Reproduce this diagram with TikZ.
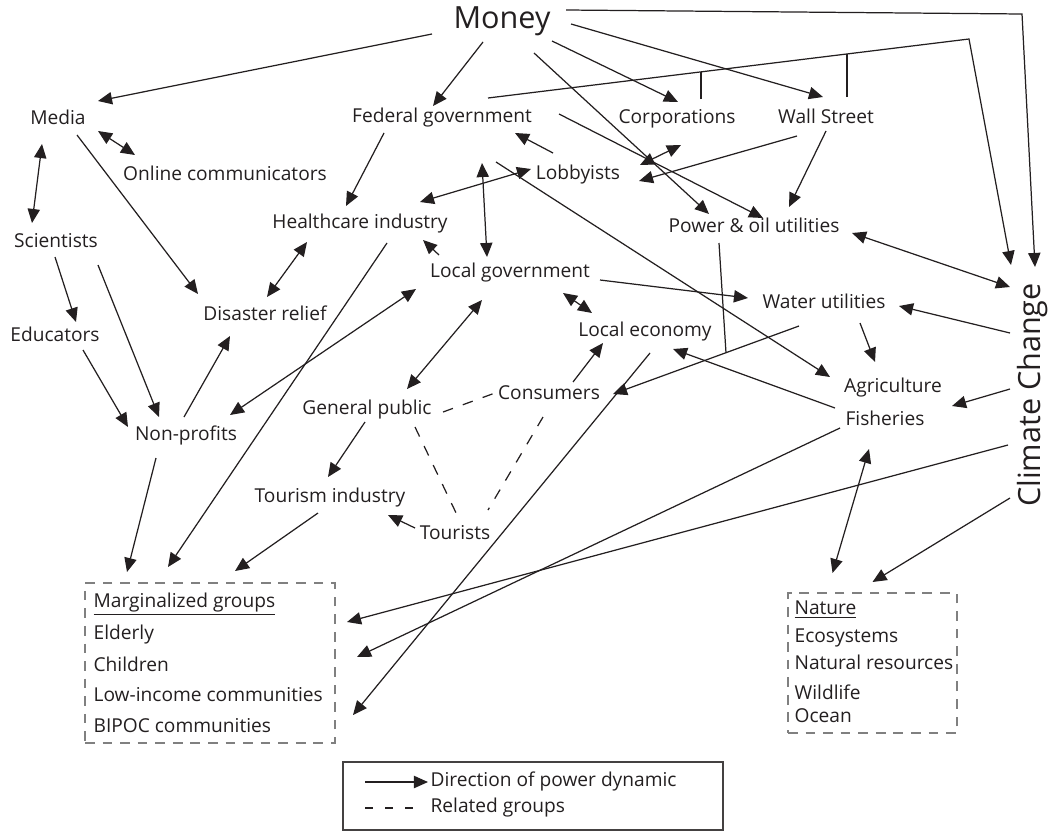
\documentclass[tikz,border=0pt]{standalone}
\usepackage{fontspec}
\setmainfont{Open Sans}
\usetikzlibrary{arrows.meta,calc}
\definecolor{ink}{RGB}{35,31,32}
\definecolor{boxgray}{RGB}{128,128,128}

\begin{document}
\begin{tikzpicture}[
  x=0.02cm, y=-0.02cm, ink, line width=0.7pt,
  lbl/.style={inner sep=0pt,text height=0.76em,text depth=0.24em,font=\fontsize{10.9}{13}\selectfont},
  big/.style={inner sep=0pt,text height=0.76em,text depth=0.24em,font=\fontsize{17.4}{20}\selectfont},
  item/.style={lbl,anchor=west},
  pow/.style={-{Triangle[length=8pt,width=7pt]}},
  both/.style={{Triangle[length=8pt,width=7pt]}-{Triangle[length=8pt,width=7pt]}},
  rel/.style={dash pattern=on 6pt off 6pt},
  grpbox/.style={draw=boxgray,dash pattern=on 5.5pt off 4.5pt,line width=0.8pt,inner sep=0pt}
]
  \useasboundingbox (0,0) rectangle (1053,835);

  \node[big] (money) at (502,24) {Money};
  \node[big,rotate=90] (climate) at (1036,395) {Climate Change};
  \node[lbl] (media) at (58,120) {Media};
  \node[lbl] (online) at (225,176) {Online communicators};
  \node[lbl] (sci) at (56,243) {Scientists};
  \node[lbl] (edu) at (55,337) {Educators};
  \node[lbl] (nonprof) at (186,436) {Non-profits};
  \node[lbl] (disaster) at (265,316) {Disaster relief};
  \node[lbl] (health) at (360,224) {Healthcare industry};
  \node[lbl] (fedgov) at (442,118) {Federal government};
  \node[lbl] (corp) at (677,119) {Corporations};
  \node[lbl] (wall) at (826,119) {Wall Street};
  \node[lbl] (lobby) at (578,175) {Lobbyists};
  \node[lbl] (power) at (754,228) {Power \& oil utilities};
  \node[lbl] (localgov) at (510,273) {Local government};
  \node[lbl] (water) at (824,304) {Water utilities};
  \node[lbl] (localeco) at (645,332) {Local economy};
  \node[lbl] (consumers) at (549,395) {Consumers};
  \node[lbl] (public) at (367,410) {General public};
  \node[lbl] (tourism) at (330,498) {Tourism industry};
  \node[lbl] (tourists) at (455,535) {Tourists};
  \node[lbl] (agri) at (893,388) {Agriculture};
  \node[lbl] (fish) at (885,421) {Fisheries};

  % group boxes
  \node[grpbox,minimum width=5cm,minimum height=3.2cm] (marg) at (210,663) {};
  \node[item] (marg0) at (93,603) {\underline{Marginalized groups}};
  \node[item] (marg1) at (93,635) {Elderly};
  \node[item] (marg2) at (93,667) {Children};
  \node[item] (marg3) at (93,697) {Low-income communities};
  \node[item] (marg4) at (93,728) {BIPOC communities};
  \node[grpbox,minimum width=3.38cm,minimum height=2.8cm] (nat) at (872.5,663) {};
  \node[item] (nat0) at (794,610) {\underline{Nature}};
  \node[item] (nat1) at (794,638) {Ecosystems};
  \node[item] (nat2) at (794,665) {Natural resources};
  \node[item] (nat3) at (794,695) {Wildlife};
  \node[item] (nat4) at (794,718) {Ocean};

  % money flows
  \draw[pow] ($(money)+(-70,10)$) -- ($(media)+(40,-19)$);
  \draw[pow] ($(money)+(-19,18)$) -- ($(fedgov)+(-9,-12)$);
  \draw[pow] ($(money)+(50,17)$) -- ($(corp)+(1,-17)$);
  \draw[pow] ($(money)+(69,0)$) -- ($(wall)+(-3,-22)$);
  \draw[pow] ($(money)+(32,29)$) -- ($(power)+(-45,-14)$);
  \coordinate (mtop) at (1022,14);
  \draw[pow] ($(money)+(64,-14)$) -- (mtop) -- ($(climate)+(-1,-128)$);
  \coordinate (btop) at (969,39);
  \draw[pow] ($(fedgov)+(46,-20)$) -- (btop) -- ($(climate)+(-25,-130)$);
  \draw ($(corp)+(24,-20)$) -- ++(0,-27);
  \draw ($(wall)+(21,-22)$) -- ++(0,-43);

  % left side
  \draw[both] ($(media)+(40,11)$) -- ($(online)+(-90,-21)$);
  \draw[both] ($(media)+(-16,24)$) -- ($(sci)+(-24,-20)$);
  \draw[pow] ($(media)+(19,15)$) -- ($(disaster)+(-67,-22)$);
  \draw[pow] ($(sci)+(-1,14)$) -- ($(edu)+(21,-15)$);
  \draw[pow] ($(sci)+(42,22)$) -- ($(nonprof)+(-27,-19)$);
  \draw[pow] ($(edu)+(28,13)$) -- ($(nonprof)+(-58,-9)$);
  \draw[pow] ($(nonprof)+(-2,-19)$) -- ($(disaster)+(-35,20)$);
  \draw[pow] ($(nonprof)+(-30,22)$) -- ($(marg)+(-83,-91)$);
  \draw[both] ($(health)+(-53,18)$) -- ($(disaster)+(2,-19)$);
  \draw[pow] ($(health)+(27,19)$) -- ($(marg)+(-42,-96)$);

  % government
  \draw[pow] ($(fedgov)+(-58,15)$) -- ($(health)+(-14,-18)$);
  \draw[both] ($(health)+(60,-22)$) -- ($(lobby)+(-47,-6)$);
  \draw[both] ($(fedgov)+(40,45)$) -- ($(localgov)+(-23,-16)$);
  \draw[pow] ($(lobby)+(-25,-22)$) -- ($(fedgov)+(73,15)$);
  \draw[both] ($(corp)+(4,26)$) -- ($(lobby)+(62,-10)$);
  \draw[pow] ($(wall)+(-29,17)$) -- ($(lobby)+(61,6)$);
  \draw[pow] ($(wall)+(0,12)$) -- ($(power)+(35,-21)$);
  \draw[pow] ($(fedgov)+(117,-4)$) -- ($(power)+(9,-10)$);
  \draw[pow] ($(fedgov)+(54,44)$) -- ($(agri)+(-63,-11)$);
  \draw[pow] ($(localgov)+(-71,-18)$) -- ($(health)+(63,16)$);
  \draw[both] ($(localgov)+(-94,16)$) -- ($(nonprof)+(44,-21)$);
  \draw[both] ($(localgov)+(-28,27)$) -- ($(public)+(40,-21)$);
  \draw[both] ($(localgov)+(53,20)$) -- ($(localeco)+(-53,-19)$);
  \draw[pow] ($(localgov)+(90,7)$) -- ($(water)+(-76,-6)$);

  % public and economy
  \draw[pow] ($(public)+(-2,12)$) -- ($(tourism)+(-2,-21)$);
  \draw[pow] ($(tourists)+(-40,-7)$) -- ($(tourism)+(58,17)$);
  \draw[pow] ($(tourism)+(-12,15)$) -- ($(marg)+(25,-92)$);
  \draw[rel] ($(public)+(76,2)$) -- ($(consumers)+(-54,-2)$);
  \draw[rel] ($(public)+(48,17)$) -- ($(tourists)+(3,-18)$);
  \draw[rel] ($(consumers)+(-6,22)$) -- ($(tourists)+(33,-25)$);
  \draw[pow] ($(consumers)+(24,-13)$) -- ($(localeco)+(-42,11)$);
  \draw[pow] ($(water)+(-25,22)$) -- ($(consumers)+(64,-1)$);
  \coordinate (pjoin) at (726,353);
  \draw ($(power)+(-35,15)$) -- (pjoin);
  \draw[pow] ($(localeco)+(5,21)$) -- ($(marg)+(143,52)$);
  \draw[pow] ($(fish)+(-50,-13)$) -- ($(localeco)+(28,17)$);
  \draw[pow] ($(fish)+(-45,7)$) -- ($(marg)+(147,-6)$);
  \draw[pow] ($(water)+(36,19)$) -- ($(agri)+(-18,-26)$);

  % climate change
  \draw[both] ($(power)+(98,5)$) -- ($(climate)+(-26,-108)$);
  \draw[pow] ($(climate)+(-26,-62)$) -- ($(water)+(75,2)$);
  \draw[pow] ($(climate)+(-26,-6)$) -- ($(agri)+(59,18)$);
  \draw[pow] ($(climate)+(-28,50)$) -- ($(marg)+(137,-41)$);
  \draw[pow] ($(climate)+(-26,103)$) -- ($(nat)+(0,-81)$);
  \draw[both] ($(fish)+(-16,28)$) -- ($(nat)+(-40,-90)$);

  % legend
  \node[draw=ink!85,line width=1.1pt,minimum width=7.6cm,minimum height=1.36cm] (legend) at (533,796) {};
  \node[item] (dir) at (430,782) {Direction of power dynamic};
  \node[item] (related) at (430,808) {Related groups};
  \draw[pow] ($(dir.west)+(-65,0)$) -- ($(dir.west)+(-2,0)$);
  \draw[dash pattern=on 4.5pt off 7pt] ($(related.west)+(-65,0)$) -- ($(related.west)+(-8,0)$);
\end{tikzpicture}
\end{document}
